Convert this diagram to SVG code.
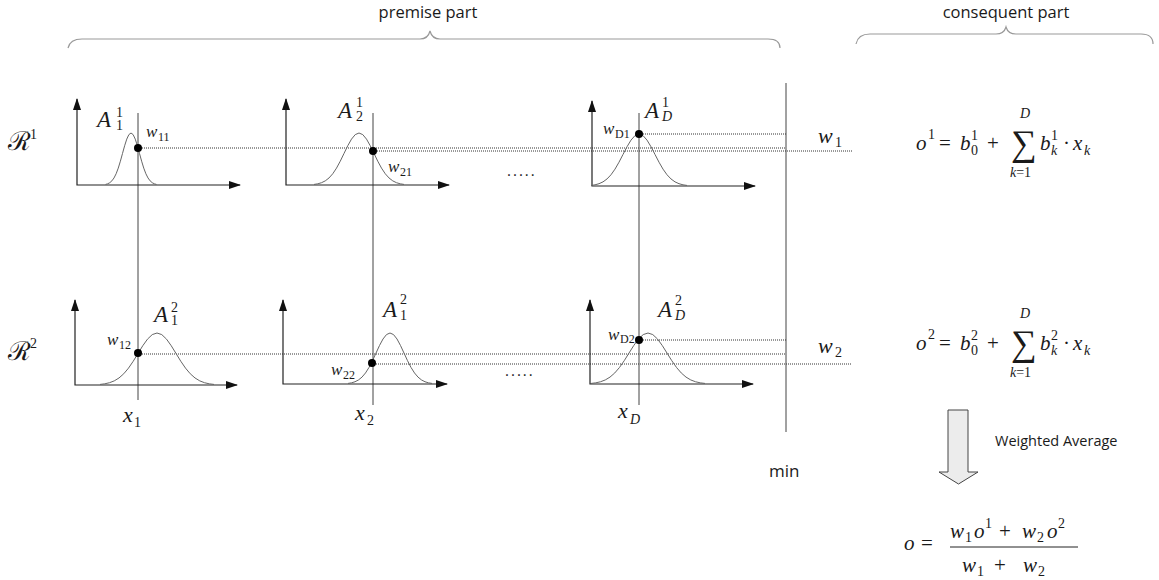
<svg xmlns="http://www.w3.org/2000/svg" width="1159" height="580" viewBox="0 0 1159 580">
<style>
.ax{stroke:#222;stroke-width:1.2;fill:none}
.vl{stroke:#444;stroke-width:1;fill:none}
.dt{stroke:#333;stroke-width:1;stroke-dasharray:1 1;fill:none}
.ga{stroke:#666;stroke-width:1;fill:none}
.br{stroke:#999;stroke-width:1.2;fill:none}
.m{font-family:"Liberation Serif",serif;fill:#1a1a1a}
.i{font-style:italic}
.A{font-size:23px}
.s{font-size:14px}
.w{font-size:17px}
.ws{font-size:12px}
.f{font-size:21px}
.lab{font-family:"Open Sans",sans-serif;fill:#1a1a1a}
.dot{fill:#000}
</style>
<defs>
<marker id="ah" viewBox="0 0 12 8" refX="11" refY="4" markerWidth="12" markerHeight="8" markerUnits="userSpaceOnUse" orient="auto-start-reverse">
<path d="M0,0 L12,4 L0,8 z" fill="#111"/>
</marker>
<polyline id="g" class="ga" vector-effect="non-scaling-stroke" points="-3,-.0111 -2.75,-.0228 -2.5,-.0439 -2.25,-.0796 -2,-.1353 -1.75,-.2163 -1.5,-.3247 -1.25,-.4578 -1,-.6065 -.75,-.7548 -.5,-.8825 -.25,-.9692 0,-1 .25,-.9692 .5,-.8825 .75,-.7548 1,-.6065 1.25,-.4578 1.5,-.3247 1.75,-.2163 2,-.1353 2.25,-.0796 2.5,-.0439 2.75,-.0228 3,-.0111"/>
</defs>

<g id="braces">
<path class="br" d="M68,48 Q70,39 82,39 L420,39 Q428,39 430,31 Q432,39 440,39 L768,39 Q780,39 780,48"/>
<path class="br" d="M856,44 Q858,34 870,34 L996,34 Q1004,34 1006,27 Q1008,34 1016,34 L1141,34 Q1153,34 1153,44"/>
<text class="lab" x="428" y="18" font-size="16.5" text-anchor="middle">premise part</text>
<text class="lab" x="1006" y="18" font-size="16.5" text-anchor="middle">consequent part</text>
</g>

<g id="connectors">
<line class="vl" x1="138" y1="113" x2="138" y2="400"/>
<line class="vl" x1="373" y1="113" x2="373" y2="405"/>
<line class="vl" x1="639" y1="113" x2="639" y2="405"/>
<line class="vl" x1="786" y1="83" x2="786" y2="432"/>
<line class="dt" x1="138" y1="148" x2="786" y2="148"/>
<line class="dt" x1="373" y1="151" x2="852" y2="151"/>
<line class="dt" x1="639" y1="134" x2="786" y2="134"/>
<line class="dt" x1="138" y1="354" x2="786" y2="354"/>
<line class="dt" x1="372" y1="364" x2="852" y2="364"/>
<line class="dt" x1="639" y1="340" x2="786" y2="340"/>
</g>

<g id="rule1-label">
<text class="m" x="8" y="150" font-size="26" font-family="'DejaVu Serif','DejaVu Sans',serif">ℛ</text>
<text class="m s" x="30" y="139">1</text>
</g>
<g id="rule2-label">
<text class="m" x="8" y="360" font-size="26" font-family="'DejaVu Serif','DejaVu Sans',serif">ℛ</text>
<text class="m s" x="30" y="348">2</text>
</g>

<g id="mf-1-1">
<path class="ax" d="M77,99 L77,185 L240,185" marker-start="url(#ah)" marker-end="url(#ah)"/>
<use href="#g" transform="translate(131,185) scale(8.5,52)"/>
<circle class="dot" cx="138" cy="148" r="4"/>
<text class="m i A" x="97" y="127">A</text>
<text class="m s" x="116" y="117">1</text>
<text class="m s" x="116" y="130">1</text>
<text class="m i w" x="146" y="137">w</text>
<text class="m ws" x="158" y="141">11</text>
</g>

<g id="mf-2-1">
<path class="ax" d="M286,99 L286,185 L449,185" marker-start="url(#ah)" marker-end="url(#ah)"/>
<use href="#g" transform="translate(359,185) scale(15,52)"/>
<circle class="dot" cx="373" cy="151" r="4"/>
<text class="m i A" x="338" y="118">A</text>
<text class="m s" x="356" y="107">1</text>
<text class="m s" x="356" y="121">2</text>
<text class="m i w" x="388" y="172">w</text>
<text class="m ws" x="400" y="176">21</text>
</g>

<g id="mf-D-1">
<path class="ax" d="M592,101 L592,186 L755,186" marker-start="url(#ah)" marker-end="url(#ah)"/>
<use href="#g" transform="translate(639,186) scale(16,52)"/>
<circle class="dot" cx="639" cy="134" r="4"/>
<text class="m i A" x="645" y="118">A</text>
<text class="m s" x="662" y="107">1</text>
<text class="m s i" x="662" y="121">D</text>
<text class="m i w" x="603" y="134">w</text>
<text class="m ws" x="615" y="138">D1</text>
</g>

<g id="mf-1-2">
<path class="ax" d="M75,300 L75,385 L237,385" marker-start="url(#ah)" marker-end="url(#ah)"/>
<use href="#g" transform="translate(157,385) scale(19,52)"/>
<circle class="dot" cx="138" cy="353" r="4"/>
<text class="m i A" x="154" y="322">A</text>
<text class="m s" x="171" y="312">2</text>
<text class="m s" x="171" y="325">1</text>
<text class="m i w" x="107" y="345">w</text>
<text class="m ws" x="119" y="349">12</text>
<text class="m i" x="123" y="422" font-size="22">x</text>
<text class="m s" x="134" y="427">1</text>
</g>

<g id="mf-2-2">
<path class="ax" d="M283,300 L283,384 L447,384" marker-start="url(#ah)" marker-end="url(#ah)"/>
<use href="#g" transform="translate(390,384) scale(14,51)"/>
<circle class="dot" cx="372" cy="363" r="4"/>
<text class="m i A" x="383" y="317">A</text>
<text class="m s" x="400" y="304">2</text>
<text class="m s" x="400" y="320">1</text>
<text class="m i w" x="331" y="375">w</text>
<text class="m ws" x="343" y="379">22</text>
<text class="m i" x="355" y="420" font-size="22">x</text>
<text class="m s" x="367" y="425">2</text>
</g>

<g id="mf-D-2">
<path class="ax" d="M590,300 L590,384 L753,384" marker-start="url(#ah)" marker-end="url(#ah)"/>
<use href="#g" transform="translate(648,384) scale(19,51)"/>
<circle class="dot" cx="639" cy="340" r="4"/>
<text class="m i A" x="658" y="317">A</text>
<text class="m s" x="675" y="305">2</text>
<text class="m s i" x="675" y="320">D</text>
<text class="m i w" x="608" y="340">w</text>
<text class="m ws" x="620" y="343">D2</text>
<text class="m i" x="618" y="418" font-size="22">x</text>
<text class="m s i" x="630" y="424">D</text>
</g>

<g id="ellipsis">
<text class="lab" x="507" y="176" font-size="15" letter-spacing="2">.....</text>
<text class="lab" x="505" y="376" font-size="15" letter-spacing="2">.....</text>
</g>

<g id="min-node">
<text class="m i" x="818" y="143" font-size="22">w</text>
<text class="m s" x="835" y="147">1</text>
<text class="m i" x="818" y="353" font-size="22">w</text>
<text class="m s" x="835" y="357">2</text>
<text class="lab" x="769" y="477" font-size="17">min</text>
</g>

<g id="consequent-1" class="m f">
<text class="i" x="916" y="150">o</text>
<text class="s" x="928" y="139">1</text>
<text x="939" y="150">=</text>
<text class="i" x="960" y="150">b</text>
<text class="s" x="971" y="140">1</text>
<text class="s" x="971" y="155">0</text>
<text x="987" y="150">+</text>
<text x="1011" y="155" font-size="36">∑</text>
<text class="s i" x="1020" y="118">D</text>
<text class="s" x="1010" y="177"><tspan class="i">k</tspan>=1</text>
<text class="i" x="1040" y="150">b</text>
<text class="s" x="1051" y="140">1</text>
<text class="s i" x="1051" y="155">k</text>
<text x="1063" y="150">·</text>
<text class="i" x="1073" y="150">x</text>
<text class="s i" x="1084" y="155">k</text>
</g>

<g id="consequent-2" class="m f">
<text class="i" x="916" y="350">o</text>
<text class="s" x="928" y="339">2</text>
<text x="939" y="350">=</text>
<text class="i" x="960" y="350">b</text>
<text class="s" x="971" y="340">2</text>
<text class="s" x="971" y="355">0</text>
<text x="987" y="350">+</text>
<text x="1011" y="355" font-size="36">∑</text>
<text class="s i" x="1020" y="318">D</text>
<text class="s" x="1010" y="377"><tspan class="i">k</tspan>=1</text>
<text class="i" x="1040" y="350">b</text>
<text class="s" x="1051" y="340">2</text>
<text class="s i" x="1051" y="355">k</text>
<text x="1063" y="350">·</text>
<text class="i" x="1073" y="350">x</text>
<text class="s i" x="1084" y="355">k</text>
</g>

<g id="weighted-average">
<polygon points="948,410 968,410 968,472 978,472 958.5,484 939,472 948,472" fill="#ececec" stroke="#444" stroke-width="1"/>
<text class="lab" x="995" y="446" font-size="14.5">Weighted Average</text>
</g>

<g id="output" class="m f">
<text class="i" x="904" y="550">o</text>
<text x="921" y="550">=</text>
<text class="i" x="950" y="538">w</text>
<text class="s" x="965" y="542">1</text>
<text class="i" x="974" y="538">o</text>
<text class="s" x="985" y="528">1</text>
<text x="999" y="538">+</text>
<text class="i" x="1022" y="538">w</text>
<text class="s" x="1037" y="542">2</text>
<text class="i" x="1047" y="538">o</text>
<text class="s" x="1058" y="528">2</text>
<line x1="950" y1="547" x2="1078" y2="547" stroke="#222" stroke-width="1"/>
<text class="i" x="962" y="572">w</text>
<text class="s" x="977" y="576">1</text>
<text x="994" y="572">+</text>
<text class="i" x="1023" y="572">w</text>
<text class="s" x="1038" y="576">2</text>
</g>
</svg>
